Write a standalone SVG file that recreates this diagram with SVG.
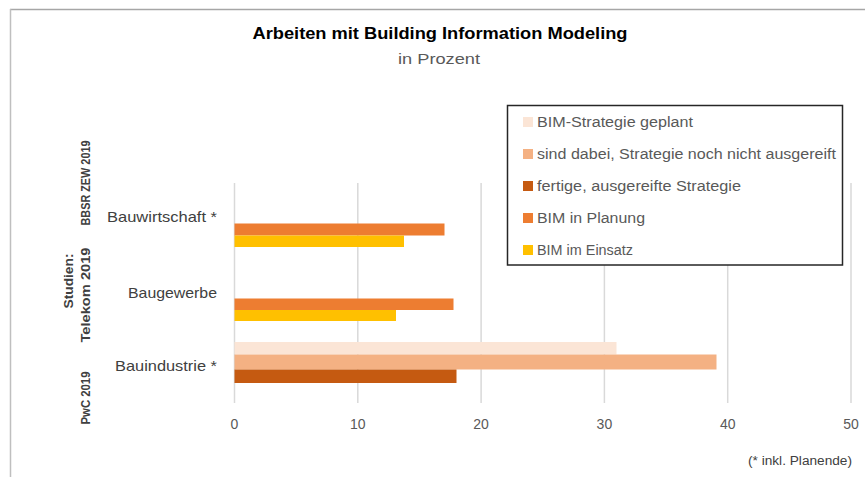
<svg xmlns="http://www.w3.org/2000/svg" width="865" height="477" viewBox="0 0 865 477">
<style>
text{font-family:"Liberation Sans","DejaVu Sans",sans-serif;}
.t{fill:#595959;font-size:14px;}
.c{fill:#404040;font-size:15px;text-anchor:end;}
.s{fill:#404040;font-size:12.5px;font-weight:bold;text-anchor:middle;}
.ax{fill:#595959;font-size:14px;text-anchor:middle;}
.g{stroke:#d9d9d9;stroke-width:1.5;}
</style>
<rect x="0" y="0" width="865" height="477" fill="#fff"/>
<g id="frame">
<line x1="10" y1="9.5" x2="865" y2="9.5" stroke="#a6a6a6" stroke-width="1.5"/>
<line x1="10.5" y1="9" x2="10.5" y2="477" stroke="#bfbfbf" stroke-width="1.5"/>
</g>
<g id="title">
<text x="440" y="39" text-anchor="middle" font-size="16" font-weight="bold" fill="#000" textLength="375" lengthAdjust="spacingAndGlyphs">Arbeiten mit Building Information Modeling</text>
<text x="439" y="64" text-anchor="middle" font-size="15" fill="#595959" textLength="82" lengthAdjust="spacingAndGlyphs">in Prozent</text>
</g>
<g id="grid">
<line class="g" x1="234.5" y1="183" x2="234.5" y2="403"/>
<line class="g" x1="357.8" y1="183" x2="357.8" y2="403"/>
<line class="g" x1="481.1" y1="183" x2="481.1" y2="403"/>
<line class="g" x1="604.4" y1="183" x2="604.4" y2="403"/>
<line class="g" x1="727.7" y1="183" x2="727.7" y2="403"/>
<line class="g" x1="851" y1="183" x2="851" y2="403"/>
</g>
<g id="axis">
<text class="ax" x="234.5" y="429">0</text>
<text class="ax" x="357.8" y="429">10</text>
<text class="ax" x="481.1" y="429">20</text>
<text class="ax" x="604.4" y="429">30</text>
<text class="ax" x="727.7" y="429">40</text>
<text class="ax" x="851" y="429">50</text>
</g>
<g id="bars">
<rect x="234.5" y="223.5" width="210" height="12" fill="#ED7D31"/>
<rect x="234.5" y="235.5" width="169.5" height="11.5" fill="#FFC000"/>
<rect x="234.5" y="298.5" width="219" height="11.5" fill="#ED7D31"/>
<rect x="234.5" y="310" width="161.5" height="11" fill="#FFC000"/>
<rect x="234.5" y="342" width="382" height="12.5" fill="#FBE5D6"/>
<rect x="234.5" y="354.5" width="482" height="15" fill="#F4B183"/>
<rect x="234.5" y="369.5" width="222" height="13.5" fill="#C55A11"/>
</g>
<g id="categories">
<text class="c" x="217" y="222" textLength="110" lengthAdjust="spacingAndGlyphs">Bauwirtschaft *</text>
<text class="c" x="217" y="298" textLength="89" lengthAdjust="spacingAndGlyphs">Baugewerbe</text>
<text class="c" x="217" y="371" textLength="102" lengthAdjust="spacingAndGlyphs">Bauindustrie *</text>
</g>
<g id="studies">
<text class="s" transform="translate(89.5,183) rotate(-90)" textLength="85" lengthAdjust="spacingAndGlyphs">BBSR ZEW 2019</text>
<text class="s" transform="translate(72.5,281) rotate(-90)" textLength="55" lengthAdjust="spacingAndGlyphs">Studien:</text>
<text class="s" transform="translate(89.5,295) rotate(-90)" textLength="95" lengthAdjust="spacingAndGlyphs">Telekom 2019</text>
<text class="s" transform="translate(89.5,398) rotate(-90)" textLength="53" lengthAdjust="spacingAndGlyphs">PwC 2019</text>
</g>
<g id="legend">
<rect x="507.5" y="105.5" width="335" height="159.5" fill="#fff" stroke="#262626" stroke-width="1.5"/>
<rect x="523" y="117" width="10" height="10" fill="#FBE5D6"/>
<text class="t" x="537" y="127" textLength="156" lengthAdjust="spacingAndGlyphs">BIM-Strategie geplant</text>
<rect x="523" y="149" width="10" height="10" fill="#F4B183"/>
<text class="t" x="537" y="159" textLength="299" lengthAdjust="spacingAndGlyphs">sind dabei, Strategie noch nicht ausgereift</text>
<rect x="523" y="181" width="10" height="10" fill="#C55A11"/>
<text class="t" x="537" y="191" textLength="204" lengthAdjust="spacingAndGlyphs">fertige, ausgereifte Strategie</text>
<rect x="523" y="213" width="10" height="10" fill="#ED7D31"/>
<text class="t" x="537" y="223" textLength="108" lengthAdjust="spacingAndGlyphs">BIM in Planung</text>
<rect x="523" y="245" width="10" height="10" fill="#FFC000"/>
<text class="t" x="537" y="255" textLength="96" lengthAdjust="spacingAndGlyphs">BIM im Einsatz</text>
</g>
<g id="footnote">
<text x="852" y="465" text-anchor="end" font-size="12" fill="#404040" textLength="104" lengthAdjust="spacingAndGlyphs">(* inkl. Planende)</text>
</g>
</svg>
